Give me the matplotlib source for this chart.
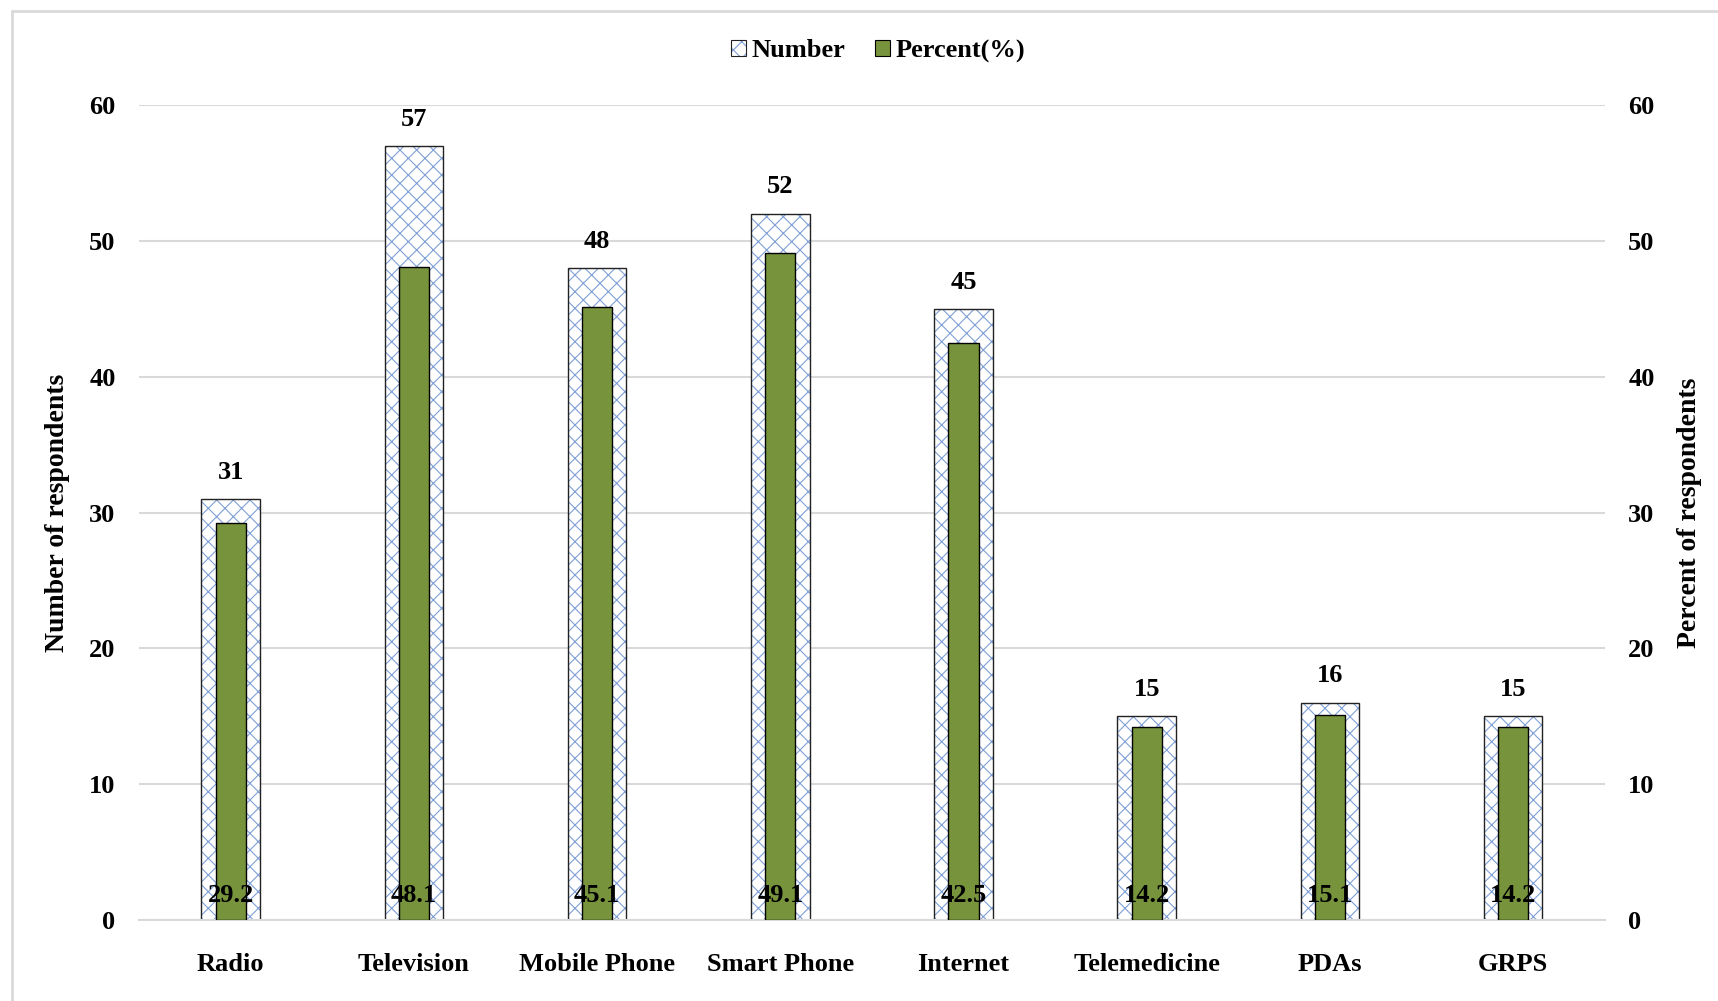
import matplotlib.pyplot as plt
import numpy as np
from matplotlib.legend_handler import HandlerTuple
from matplotlib.patches import Patch, Rectangle

plt.rcParams["font.family"] = ["Liberation Serif", "DejaVu Serif"]
plt.rcParams["font.weight"] = "bold"
plt.rcParams["hatch.linewidth"] = 0.8

categories = ["Radio", "Television", "Mobile Phone", "Smart Phone", "Internet",
              "Telemedicine", "PDAs", "GRPS"]
numbers = [31, 57, 48, 52, 45, 15, 16, 15]
percents = [29.2, 48.1, 45.1, 49.1, 42.5, 14.2, 15.1, 14.2]
yticks = [0, 10, 20, 30, 40, 50, 60]

HATCH_BLUE = "#7f9fd6"
GREEN = "#77933c"
FS = 19

fig = plt.figure(figsize=(17.18, 10.01), dpi=100)
ax = fig.add_axes([0.081, 0.081, 0.853, 0.814])
ax2 = ax.twinx()

x = np.arange(len(categories))

# 数の棒：青いハッチを描いてから黒い枠を重ねる
ax.bar(x, numbers, width=0.32, facecolor="white", edgecolor=HATCH_BLUE,
       linewidth=0, hatch="xx", zorder=2)
ax.bar(x, numbers, width=0.32, fill=False, edgecolor="#222222",
       linewidth=1.0, zorder=2.5)
# 割合の棒は右軸
ax2.bar(x, percents, width=0.165, color=GREEN, edgecolor="black",
        linewidth=1.0, zorder=3)

for xi, v in zip(x, numbers):
    ax.annotate(str(v), (xi, v), xytext=(0, 11), textcoords="offset points",
                ha="center", va="bottom", fontsize=FS, fontweight="bold")
for xi, v in zip(x, percents):
    ax2.annotate(f"{v}", (xi, 0), xytext=(0, 9), textcoords="offset points",
                 ha="center", va="bottom", fontsize=FS, fontweight="bold")

for a in (ax, ax2):
    a.set_ylim(0, 60)
    a.set_yticks(yticks)
    a.tick_params(axis="y", length=0, labelsize=FS, pad=17)
    for s in a.spines.values():
        s.set_visible(False)

ax.set_xlim(-0.5, len(categories) - 0.5)
ax.set_xticks(x)
ax.set_xticklabels(categories, fontsize=FS, fontweight="bold")
ax.tick_params(axis="x", length=0, pad=24)
ax.grid(axis="y", color="#d9d9d9", linewidth=1.5, zorder=0)
ax.set_axisbelow(True)
ax.spines["bottom"].set_visible(True)
ax.spines["bottom"].set_color("#d9d9d9")
ax.spines["bottom"].set_linewidth(1.5)

ax.set_ylabel("Number of respondents", fontsize=20, fontweight="bold", labelpad=14)
ax2.set_ylabel("Percent of respondents", fontsize=20, fontweight="bold", labelpad=16)

# 凡例：ハッチの見本は青いハッチ＋黒枠の重ね
hatch_handle = (Patch(facecolor="white", edgecolor=HATCH_BLUE, hatch="xx", linewidth=0),
                Patch(fill=False, edgecolor="#222222", linewidth=0.8))
green_handle = Patch(facecolor=GREEN, edgecolor="black", linewidth=0.8)
fig.legend([hatch_handle, green_handle], ["Number", "Percent(%)"], loc="center",
           bbox_to_anchor=(0.511, 0.949), ncol=2, frameon=False, fontsize=FS,
           handlelength=0.6, handleheight=0.6, handletextpad=0.2,
           columnspacing=1.1, handler_map={tuple: HandlerTuple(ndivide=1, pad=0)})

# 外枠
fig.patches.append(Rectangle((0.0068, -0.05), 1.1, 1.039, transform=fig.transFigure,
                             fill=False, edgecolor="#d9d9d9", linewidth=2))

fig.savefig("out.png", dpi=100)
